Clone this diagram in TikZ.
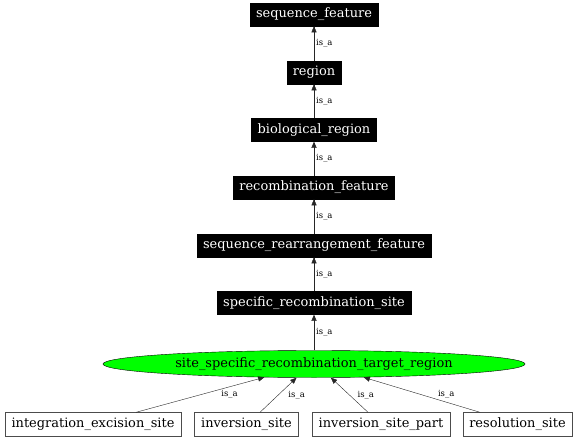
\documentclass[tikz,border=0pt]{standalone}
\usepackage{fontspec}
\setmainfont{DejaVu Serif}
\usepackage{tikz}
\usetikzlibrary{positioning, arrows, shapes.geometric}

\tikzset{
    term/.style={draw=black, fill=black, text=white, rectangle, inner xsep=6bp, inner ysep=0bp,
        minimum height=23bp, font=\fontsize{13}{15}\selectfont},
    leaf/.style={draw=black!70, fill=white, text=black, rectangle, inner xsep=6.5bp, inner ysep=0bp,
        minimum height=24bp, font=\fontsize{13}{15}\selectfont},
    focus/.style={draw=black, fill=green, ellipse, inner xsep=0bp, inner ysep=0bp,
        minimum width=422bp, minimum height=27bp, font=\fontsize{13}{15}\selectfont},
    rel/.style={font=\fontsize{8.5}{10}\selectfont, text=black, inner sep=1bp, anchor=west}
}

\begin{document}
\begin{tikzpicture}[x=1bp, y=-1bp, ->, >=triangle 45, thin, draw=black!85]
    \useasboundingbox (0,0) rectangle (576,439);
    % upper chain
    \node[term] (seqfeat) at (314,14.5) {sequence\_feature};
    \node[term] (region) at (314,72.5) {region};
    \node[term] (bioreg) at (314,130) {biological\_region};
    \node[term] (recfeat) at (314,187.5) {recombination\_feature};
    \node[term] (rearr) at (314,245.5) {sequence\_rearrangement\_feature};
    \node[term] (specsite) at (314,303) {specific\_recombination\_site};
    \node[focus] (target) at (314,364) {site\_specific\_recombination\_target\_region};
    % children
    \node[leaf] (integ) at (93,424.5) {integration\_excision\_site};
    \node[leaf] (inv) at (246.5,424.5) {inversion\_site};
    \node[leaf] (invpart) at (381,424.5) {inversion\_site\_part};
    \node[leaf] (resol) at (517.5,424.5) {resolution\_site};

    \draw (region) edge node[rel, xshift=1bp]{is\_a} (seqfeat);
    \draw (bioreg) edge node[rel, xshift=1bp]{is\_a} (region);
    \draw (recfeat) edge node[rel, xshift=1bp]{is\_a} (bioreg);
    \draw (rearr) edge node[rel, xshift=1bp]{is\_a} (recfeat);
    \draw (specsite) edge node[rel, xshift=1bp]{is\_a} (rearr);
    \draw (target) edge node[rel, xshift=1bp]{is\_a} (specsite);

    \draw ([xshift=43bp]integ.north) -- node[rel, xshift=20bp]{is\_a} (target.-165.7);
    \draw ([xshift=13.5bp]inv.north) -- node[rel, xshift=9bp]{is\_a} (target.-142.6);
    \draw ([xshift=-13bp]invpart.north) -- node[rel, xshift=7bp]{is\_a} (target.-39.1);
    \draw ([xshift=-37.5bp]resol.north) -- node[rel, xshift=15bp]{is\_a} (target.-15.2);
\end{tikzpicture}
\end{document}
